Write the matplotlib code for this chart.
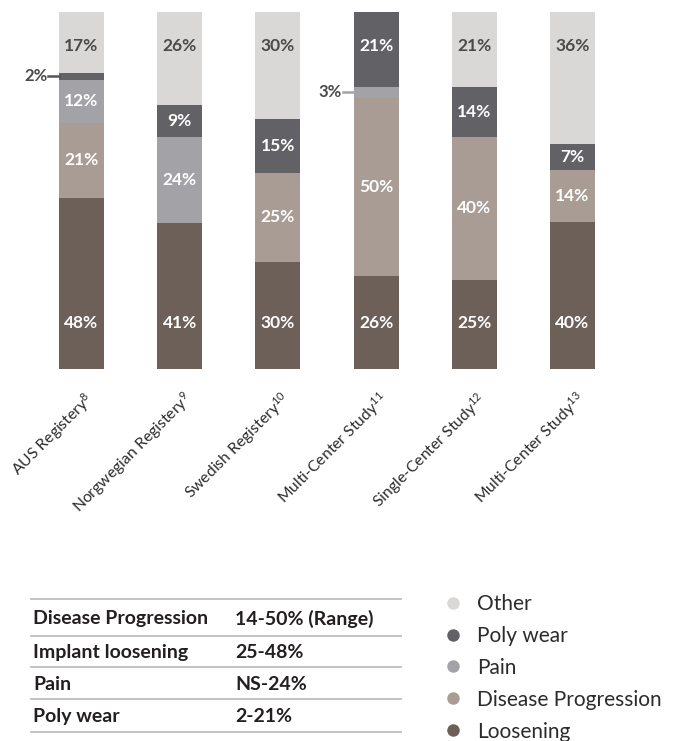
import matplotlib
matplotlib.use("Agg")
import matplotlib.pyplot as plt
import numpy as np
from matplotlib.lines import Line2D

plt.rcParams['font.family'] = ['Lato', 'DejaVu Sans']
plt.rcParams['mathtext.default'] = 'regular'

# data
studies = ['AUS Registery$^{8}$', 'Norgwegian Registery$^{9}$', 'Swedish Registery$^{10}$',
           'Multi-Center Study$^{11}$', 'Single-Center Study$^{12}$', 'Multi-Center Study$^{13}$']
loosening = [48, 41, 30, 26, 25, 40]
disease = [21, 0, 25, 50, 40, 14]
pain = [12, 24, 0, 3, 0, 0]
poly = [2, 9, 15, 21, 14, 7]
other = [17, 26, 30, 0, 21, 36]

series = [('Loosening', loosening, '#6d6058'),
          ('Disease Progression', disease, '#a89c94'),
          ('Pain', pain, '#a3a2a6'),
          ('Poly wear', poly, '#626266'),
          ('Other', other, '#d9d8d6')]

table_rows = [('Disease Progression', '14-50% (Range)'),
              ('Implant loosening', '25-48%'),
              ('Pain', 'NS-24%'),
              ('Poly wear', '2-21%')]

W, H = 678, 741
fig = plt.figure(figsize=(W / 100, H / 100), dpi=100)
ax = fig.add_axes([0, 1 - 369 / H, 1, (369 - 12) / H])

x = np.arange(len(studies))
totals = np.sum([s[1] for s in series], axis=0)
bottom = np.zeros(len(studies))
bar_w = 0.46
dark_txt = '#4a4a4c'

for si, (name, vals, col) in enumerate(series):
    vals = np.array(vals, dtype=float)
    h = vals / totals * 100
    ax.bar(x, h, bar_w, bottom=bottom, color=col, linewidth=0)
    for i in range(len(studies)):
        if vals[i] <= 0:
            continue
        # top-most non-zero segment?
        is_top = all(series[k][1][i] == 0 for k in range(si + 1, len(series)))
        label = f'{int(vals[i])}%'
        if vals[i] < 5:
            # small slice: label outside with a short leader line
            yc = bottom[i] + h[i] / 2
            ax.plot([i - bar_w / 2 - 0.11, i - bar_w / 2], [yc, yc],
                    color=col if name == 'Pain' else '#555558', lw=1.8)
            ax.text(i - bar_w / 2 - 0.12, yc, label, ha='right', va='center',
                    fontsize=12, fontweight='bold', color=dark_txt)
            continue
        if is_top:
            yl = 90.5
        elif si == 0:
            yl = 13
        else:
            yl = bottom[i] + h[i] / 2
        tc = dark_txt if name == 'Other' else 'white'
        ax.text(i, yl, label, ha='center', va='center', fontsize=12.5,
                fontweight='bold', color=tc)
    bottom += h

for i, s in enumerate(studies):
    ax.annotate(s, xy=(i, 0), xycoords='data', xytext=(13, -31),
                textcoords='offset pixels', rotation=45, rotation_mode='anchor',
                ha='right', va='baseline', fontsize=11.3, color='#2b2b2b',
                annotation_clip=False)

ax.set_xlim(-81.5 / 98.2, (W - 81.5) / 98.2)
ax.set_ylim(0, 100)
ax.axis('off')

# bottom table + legend in pixel coordinates
ax2 = fig.add_axes([0, 0, 1, 1], zorder=-1)
ax2.set_xlim(0, W)
ax2.set_ylim(H, 0)
ax2.axis('off')

line_ys = [599, 636, 667, 699, 732]
for ly in line_ys:
    ax2.plot([31, 401], [ly, ly], color='#bdbdbd', lw=1.3)
for r, (k, v) in enumerate(table_rows):
    yc = (line_ys[r] + line_ys[r + 1]) / 2 + 1
    ax2.text(33, yc, k, ha='left', va='center', fontsize=14, fontweight='bold', color='#231f20')
    ax2.text(235, yc, v, ha='left', va='center', fontsize=14, fontweight='bold', color='#231f20')

handles = [Line2D([], [], marker='o', ls='', markersize=9, color=c, markeredgewidth=0, label=n)
           for n, _, c in series[::-1]]
fig.legend(handles=handles, loc='upper left', bbox_to_anchor=(443 / W, 1 - 594 / H),
           frameon=False, fontsize=15, labelspacing=0.57, handletextpad=0.65,
           handlelength=1.0, borderpad=0, borderaxespad=0, labelcolor='#2b2b2b')

fig.savefig('out.png', dpi=100)
